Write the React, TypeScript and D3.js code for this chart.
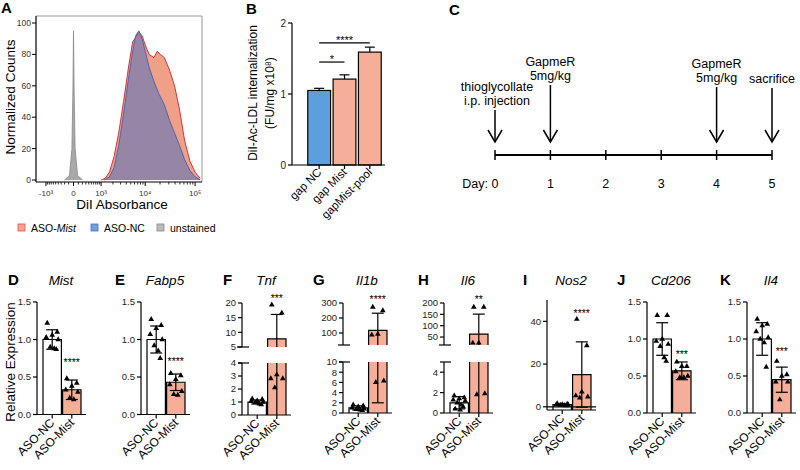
import React from "react";
import * as d3 from "d3";

const FONT = "'Liberation Sans', Arial, Helvetica, sans-serif";
const MIST_FILL = "#f5ae98";
const NC_BLUE = "#5d9fdc";

// ---------- Panel A: histogram data ----------
const aMistIntensity = [1000, 1280, 1650, 2130, 2720, 3490, 4480, 5480, 6360, 7400, 8600, 10000, 12000, 15000, 17600, 20300, 24400, 31000, 39000, 49000, 62000, 79000, 100000, 126000];
const aMistCounts = [0, 1, 5, 15, 30, 50, 72, 88, 91, 94, 92, 86, 80, 78, 82, 80, 78, 70, 60, 45, 25, 12, 5, 1];
const aNcIntensity = [1220, 1650, 2130, 2720, 3490, 4480, 5480, 6360, 7400, 8600, 10000, 12000, 15000, 18900, 24400, 31000, 39000, 49000, 62000, 79000, 100000, 126000];
const aNcCounts = [0, 2, 8, 22, 42, 65, 82, 92, 95, 90, 82, 72, 63, 55, 48, 38, 30, 22, 13, 6, 2, 0];
const aUnstIntensity = [-200, -80, -30, -10, 0, 10, 30, 80, 200];
const aUnstCounts = [0, 3, 20, 60, 95, 60, 20, 3, 0];
const aYTicks = [0, 20, 40, 60, 80, 100];
const aXMajor = [-1000, 0, 1000, 10000, 100000];
const aXMajorLabels = ["-10³", "0", "10³", "10⁴", "10⁵"];
const aXMinor = [-900, -800, -700, -600, -500, -400, -300, -200, -100, 100, 200, 300, 400, 500, 600, 700, 800, 900, 2000, 3000, 4000, 5000, 6000, 7000, 8000, 9000, 20000, 30000, 40000, 50000, 60000, 70000, 80000, 90000];
const aLegend = ["ASO-", "ASO-NC", "unstained"];

// ---------- Panel B ----------
const bCats = ["gap NC", "gap Mist", "gapMist-pool"];
const bMeans = [1.05, 1.21, 1.59];
const bSD = [0.03, 0.06, 0.07];
const bTicks = [0, 1, 2];
const bSig = [
  { a: 0, b: 1, label: "*", level: 1.45 },
  { a: 0, b: 2, label: "****", level: 1.72 },
];

// ---------- Panel C ----------
const cDays = [0, 1, 2, 3, 4, 5];
const cEvents = [
  { day: 0, lines: ["thioglycollate", "i.p. injection"] },
  { day: 1, lines: ["GapmeR", "5mg/kg"] },
  { day: 4, lines: ["GapmeR", "5mg/kg"] },
  { day: 5, lines: ["sacrifice"] },
];

// ---------- Panels D-K ----------
const letters = ["D", "E", "F", "G", "H", "I", "J", "K"];
const genes = ["Mist", "Fabp5", "Tnf", "Il1b", "Il6", "Nos2", "Cd206", "Il4"];
const groupLabels = ["ASO-NC", "ASO-Mist"];
const ncMeans = [1.0, 1.0, 1.0, 1.0, 1.0, 1.0, 1.0, 1.0];
const ncSD = [0.13, 0.18, 0.15, 0.4, 0.6, 0.3, 0.22, 0.22];
const mistMeans = [0.33, 0.43, 7.8, 117, 63, 15.1, 0.57, 0.45];
const mistSD = [0.13, 0.11, 8.3, 115, 88, 15.3, 0.12, 0.17];
const ncPoints = [
  [1.22, 1.1, 1.06, 1.03, 1.0, 0.9, 0.88, 0.87],
  [1.27, 1.19, 1.15, 1.07, 1.0, 0.92, 0.85, 0.75],
  [1.25, 1.2, 1.1, 1.05, 1.0, 0.95, 0.85, 0.8],
  [1.6, 1.4, 1.2, 1.0, 0.8, 0.7, 0.6, 0.5],
  [1.7, 1.5, 1.4, 1.3, 1.2, 1.0, 0.8, 0.6, 0.4, 0.3],
  [1.5, 1.3, 1.1, 1.0, 0.9, 0.8, 0.7, 0.6],
  [1.32, 1.32, 1.0, 0.97, 0.93, 0.9, 0.75, 0.7],
  [1.27, 1.2, 1.18, 1.1, 1.02, 1.0, 0.95, 0.62],
];
const mistPoints = [
  [0.48, 0.42, 0.38, 0.33, 0.3, 0.22, 0.2],
  [0.55, 0.52, 0.47, 0.4, 0.31, 0.27, 0.26],
  [19.4, 16.6, 3.1, 2.8, 2.8, 2.1],
  [273, 250, 93, 87, 6.3, 6.0],
  [182, 182, 24, 24, 1.9, 1.8],
  [41, 28.7, 7, 5.2, 4.7, 4.2],
  [0.69, 0.63, 0.63, 0.56, 0.5, 0.48, 0.48],
  [0.7, 0.52, 0.5, 0.42, 0.42, 0.18],
];
const stars = ["****", "****", "***", "****", "**", "****", "***", "***"];
const tickFmts = [".1f", ".1f", "d", "d", "d", "d", ".1f", ".1f"];
const segDomains = [
  [[0, 1.5]],
  [[0, 1.5]],
  [[0, 4], [5, 20]],
  [[0, 10], [20, 300]],
  [[0, 5], [15, 200]],
  [[-1.5, 50]],
  [[0, 1.5]],
  [[0, 1.5]],
];
const segTicks = [
  [[0, 0.5, 1.0, 1.5]],
  [[0, 0.5, 1.0, 1.5]],
  [[0, 1, 2, 3, 4], [5, 10, 15, 20]],
  [[0, 2, 4, 6, 8, 10], [100, 200, 300]],
  [[0, 2, 4], [50, 100, 150, 200]],
  [[0, 20, 40]],
  [[0, 0.5, 1.0, 1.5]],
  [[0, 0.5, 1.0, 1.5]],
];

// ---------- Layout (pixels) ----------
const segRanges = [
  [[414.5, 302]],
  [[414.5, 302]],
  [[415, 363], [347, 303]],
  [[413, 362], [345, 303]],
  [[413, 362], [345, 303]],
  [[410, 300]],
  [[413, 302]],
  [[413, 302]],
];
const axisXs = [37, 141, 242, 343, 444, 547, 647, 747];
const letterXs = [8, 115, 223, 313, 418, 523, 617, 720];
const starYs = [366, 365, 302, 303, 303, 317, 358, 355];
const jitter = [-5, 5, 0, -6, 6, -2, 2, 4, -4, 1];

function PanelA() {
  const ax = d3.scaleSymlog().constant(400).domain([-1800, 137000]).range([36, 202]);
  const ay = d3.scaleLinear().domain([0, 100]).range([180, 23]);
  const mk = (xs: number[], ys: number[]) => {
    const idx = d3.range(xs.length);
    const area = d3.area<number>().x((i) => ax(xs[i])).y0(ay(0)).y1((i) => ay(ys[i]))(idx) as string;
    const line = d3.line<number>().x((i) => ax(xs[i])).y((i) => ay(ys[i]))(idx) as string;
    return { area, line };
  };
  const red = mk(aMistIntensity, aMistCounts);
  const blue = mk(aNcIntensity, aNcCounts);
  const gray = mk(aUnstIntensity, aUnstCounts);
  return (
    <g>
      <text x={1} y={13} fontSize={15} fontWeight="bold">A</text>
      <path d={red.area} fill="#f0a087" />
      <path d={blue.area} fill="#4f6fc0" fillOpacity={0.55} />
      <path d={gray.area} fill="#a9a9a9" />
      <path d={red.line} fill="none" stroke="#d8323a" strokeWidth={1} />
      <path d={blue.line} fill="none" stroke="#4a66b0" strokeWidth={1} />
      <path d={gray.line} fill="none" stroke="#888" strokeWidth={0.8} />
      <line x1={36} x2={202} y1={16} y2={16} stroke="#999" />
      <line x1={202} x2={202} y1={16} y2={182} stroke="#999" />
      <line x1={36} x2={36} y1={16} y2={182} stroke="#000" strokeWidth={1.2} />
      <line x1={36} x2={202} y1={182} y2={182} stroke="#000" strokeWidth={1.2} />
      {aYTicks.map((t) => (
        <g key={t}>
          <line x1={32} x2={36} y1={ay(t)} y2={ay(t)} stroke="#000" />
          <text x={31} y={ay(t)} dy="0.35em" fontSize={8.5} textAnchor="end" fill="#333">{t}</text>
        </g>
      ))}
      {aXMinor.map((t) => (
        <line key={t} x1={ax(t)} x2={ax(t)} y1={182} y2={184.5} stroke="#000" strokeWidth={0.8} />
      ))}
      {aXMajor.map((t, i) => (
        <g key={t}>
          <line x1={ax(t)} x2={ax(t)} y1={182} y2={186} stroke="#000" />
          <text x={ax(t)} y={196} fontSize={8} textAnchor="middle" fill="#333">{aXMajorLabels[i]}</text>
        </g>
      ))}
      <text transform="translate(15,97) rotate(-90)" fontSize={13.5} textAnchor="middle">Normalized Counts</text>
      <text x={122} y={209} fontSize={13.5} textAnchor="middle">DiI Absorbance</text>
      <rect x={18} y={224} width={7} height={7} fill="#f4a58f" stroke="#e05050" strokeWidth={0.8} />
      <text x={31} y={231.5} fontSize={10.5}>{aLegend[0]}<tspan fontStyle="italic">Mist</tspan></text>
      <rect x={91} y={224} width={7} height={7} fill="#6fa0dc" stroke="#4a70b8" strokeWidth={0.8} />
      <text x={104} y={231.5} fontSize={10.5}>{aLegend[1]}</text>
      <rect x={157} y={224} width={7} height={7} fill="#bbb" stroke="#888" strokeWidth={0.8} />
      <text x={170} y={231.5} fontSize={10.5}>{aLegend[2]}</text>
    </g>
  );
}

function PanelB() {
  const y = d3.scaleLinear().domain([0, 2]).range([165, 23]);
  const x = d3.scaleBand().domain(bCats).range([306.5, 382.5]).paddingInner(0.1).paddingOuter(0.05);
  const bw = x.bandwidth();
  const cx = (i: number) => (x(bCats[i]) as number) + bw / 2;
  return (
    <g>
      <text x={246} y={14} fontSize={15} fontWeight="bold">B</text>
      <text transform="translate(257,93) rotate(-90)" fontSize={12} textAnchor="middle">DiI-Ac-LDL internalization</text>
      <text transform="translate(274,93) rotate(-90)" fontSize={12} textAnchor="middle">(FU/mg x10⁸)</text>
      {bCats.map((c, i) => (
        <g key={c}>
          <rect x={x(c)} y={y(bMeans[i])} width={bw} height={y(0) - y(bMeans[i])} fill={i === 0 ? NC_BLUE : MIST_FILL} stroke="#000" strokeWidth={1.2} />
          <line x1={cx(i)} x2={cx(i)} y1={y(bMeans[i])} y2={y(bMeans[i] + bSD[i])} stroke="#000" strokeWidth={1.2} />
          <line x1={cx(i) - 5} x2={cx(i) + 5} y1={y(bMeans[i] + bSD[i])} y2={y(bMeans[i] + bSD[i])} stroke="#000" strokeWidth={1.2} />
          <line x1={cx(i)} x2={cx(i)} y1={165} y2={169} stroke="#000" strokeWidth={1.2} />
          <text transform={`translate(${cx(i) + 3},${173}) rotate(-45)`} fontSize={11.5} textAnchor="end">{c}</text>
        </g>
      ))}
      <line x1={292} x2={292} y1={y(2)} y2={165} stroke="#000" strokeWidth={1.2} />
      <line x1={292} x2={385} y1={165} y2={165} stroke="#000" strokeWidth={1.2} />
      {bTicks.map((t) => (
        <g key={t}>
          <line x1={288} x2={292} y1={y(t)} y2={y(t)} stroke="#000" strokeWidth={1.2} />
          <text x={286} y={y(t)} dy="0.35em" fontSize={10} textAnchor="end" fill="#222">{t}</text>
        </g>
      ))}
      {bSig.map((s) => (
        <g key={s.label}>
          <line x1={cx(s.a)} x2={cx(s.b)} y1={y(s.level)} y2={y(s.level)} stroke="#000" strokeWidth={1.2} />
          <text x={(cx(s.a) + cx(s.b)) / 2} y={y(s.level) + 1} fontSize={11} textAnchor="middle">{s.label}</text>
        </g>
      ))}
    </g>
  );
}

function PanelC() {
  const x = d3.scaleLinear().domain([0, 5]).range([495, 772]);
  const ly = 155;
  const tops: Record<number, number> = { 0: 110, 1: 85, 4: 87, 5: 88 };
  return (
    <g>
      <text x={449} y={15} fontSize={15} fontWeight="bold">C</text>
      <line x1={x(0)} x2={x(5)} y1={ly} y2={ly} stroke="#000" strokeWidth={1.8} />
      {cDays.map((d) => (
        <g key={d}>
          <line x1={x(d)} x2={x(d)} y1={ly - 5} y2={ly + 5} stroke="#000" strokeWidth={1.5} />
          <text x={x(d)} y={188} fontSize={12.5} textAnchor="middle">{d}</text>
        </g>
      ))}
      <text x={488} y={188} fontSize={12.5} textAnchor="end">Day:</text>
      {cEvents.map((e) => {
        const cx = x(e.day);
        const top = tops[e.day];
        const n = e.lines.length;
        return (
          <g key={e.day}>
            <line x1={cx} x2={cx} y1={top} y2={142} stroke="#000" strokeWidth={1.5} />
            <path d={`M${cx - 7},${130}L${cx},${142}L${cx + 7},${130}`} fill="none" stroke="#000" strokeWidth={1.5} />
            {e.lines.map((l, li) => (
              <text key={li} x={cx + (e.day === 0 ? 2 : 0)} y={top - 5 - (n - 1 - li) * 14.5} fontSize={12.5} textAnchor="middle">{l}</text>
            ))}
          </g>
        );
      })}
    </g>
  );
}

function ExprPanel({ i }: { i: number }) {
  const ax = axisXs[i];
  const segs = segDomains[i].map((d, k) => ({ lo: d[0], hi: d[1], r: segRanges[i][k], ticks: segTicks[i][k] }));
  const scales = segs.map((s) => d3.scaleLinear().domain([s.lo, s.hi]).range(s.r));
  const yOf = (v: number) => {
    for (let k = 0; k < segs.length; k++) {
      if (v <= segs[k].hi || k === segs.length - 1) return scales[k](Math.max(segs[k].lo, Math.min(v, segs[k].hi)));
    }
    return 0;
  };
  const xb = d3.scaleBand().domain(groupLabels).range([ax + 6, ax + 44]).paddingInner(0.06);
  const bw = xb.bandwidth();
  const xEnd = ax + 49;
  const base = segs[0].lo;
  const fmt = d3.format(tickFmts[i]);
  const tri = d3.symbol().type(d3.symbolTriangle).size(14)() as string;
  const groups = [
    { key: groupLabels[0], mean: ncMeans[i], sd: ncSD[i], pts: ncPoints[i], fill: "#ffffff" },
    { key: groupLabels[1], mean: mistMeans[i], sd: mistSD[i], pts: mistPoints[i], fill: MIST_FILL },
  ];
  const bars: React.ReactNode[] = [];
  const errs: React.ReactNode[] = [];
  const pts: React.ReactNode[] = [];
  groups.forEach((g, gi) => {
    const x0 = xb(g.key) as number;
    const cx = x0 + bw / 2;
    segs.forEach((s, k) => {
      const a = Math.max(s.lo, base);
      const b = Math.min(g.mean, s.hi);
      if (b <= a) return;
      const ya = scales[k](a);
      const yb = scales[k](b);
      const isTop = g.mean <= s.hi;
      bars.push(<rect key={`r${gi}${k}`} x={x0} y={yb} width={bw} height={ya - yb} fill={g.fill} />);
      const p = `M${x0},${ya}V${yb}` + (isTop ? `H${x0 + bw}` : `M${x0 + bw},${yb}`) + `V${ya}`;
      bars.push(<path key={`p${gi}${k}`} d={p} fill="none" stroke="#000" strokeWidth={1.2} />);
    });
    const lo = g.mean - g.sd;
    const hi = g.mean + g.sd;
    segs.forEach((s, k) => {
      const a = Math.max(lo, s.lo);
      const b = Math.min(hi, s.hi);
      if (b <= a) return;
      errs.push(<line key={`e${gi}${k}`} x1={cx} x2={cx} y1={scales[k](a)} y2={scales[k](b)} stroke="#000" strokeWidth={1.2} />);
    });
    errs.push(<line key={`ct${gi}`} x1={cx - 6} x2={cx + 6} y1={yOf(hi)} y2={yOf(hi)} stroke="#000" strokeWidth={1.2} />);
    if (lo >= segs[0].lo) {
      errs.push(<line key={`cb${gi}`} x1={cx - 6} x2={cx + 6} y1={yOf(lo)} y2={yOf(lo)} stroke="#000" strokeWidth={1.2} />);
    }
    g.pts.forEach((v, j) => {
      pts.push(<path key={`t${gi}${j}`} d={tri} transform={`translate(${cx + jitter[j % jitter.length]},${yOf(v)})`} fill="#000" />);
    });
  });
  const c1 = (xb(groupLabels[0]) as number) + bw / 2;
  const c2 = (xb(groupLabels[1]) as number) + bw / 2;
  const yBase = segs[0].r[0];
  return (
    <g>
      <text x={letterXs[i]} y={285} fontSize={15} fontWeight="bold">{letters[i]}</text>
      <text x={(c1 + c2) / 2 - 1} y={285} fontSize={13.5} fontStyle="italic" textAnchor="middle">{genes[i]}</text>
      {i === 0 && (
        <text transform="translate(15,362) rotate(-90)" fontSize={13.5} textAnchor="middle">Relative Expression</text>
      )}
      {bars}
      {segs.map((s, k) => (
        <g key={k}>
          <line x1={ax} x2={ax} y1={s.r[0]} y2={s.r[1]} stroke="#000" strokeWidth={1.2} />
          {s.ticks.map((t) => (
            <g key={t}>
              <line x1={ax - 4} x2={ax} y1={scales[k](t)} y2={scales[k](t)} stroke="#000" strokeWidth={1.2} />
              <text x={ax - 6} y={scales[k](t)} dy="0.35em" fontSize={9.5} textAnchor="end" fill="#222">{fmt(t)}</text>
            </g>
          ))}
        </g>
      ))}
      {segs.length > 1 && (
        <g>
          <line x1={ax - 4} x2={ax + 7} y1={segs[0].r[1]} y2={segs[0].r[1]} stroke="#000" strokeWidth={1.2} />
          <line x1={ax - 5} x2={ax + 7} y1={segs[1].r[0]} y2={segs[1].r[0]} stroke="#000" strokeWidth={1.2} />
        </g>
      )}
      <line x1={ax} x2={xEnd} y1={yBase} y2={yBase} stroke="#000" strokeWidth={1.2} />
      {segs[0].lo < 0 && (
        <line x1={ax} x2={xEnd} y1={scales[0](0)} y2={scales[0](0)} stroke="#000" strokeWidth={1.2} />
      )}
      {errs}
      {pts}
      {groupLabels.map((gl, gi) => {
        const cx = gi === 0 ? c1 : c2;
        return (
          <g key={gl}>
            <line x1={cx} x2={cx} y1={yBase} y2={yBase + 4} stroke="#000" strokeWidth={1.2} />
            <text transform={`translate(${cx + 3},${yBase + 9}) rotate(-45)`} fontSize={12} textAnchor="end">{gl}</text>
          </g>
        );
      })}
      <text x={c2} y={starYs[i]} fontSize={10.5} textAnchor="middle">{stars[i]}</text>
    </g>
  );
}

export default function App() {
  return (
    <svg width={800} height={470} style={{ position: "absolute", left: 0, top: 0, background: "#fff" }} fontFamily={FONT}>
      <rect x={0} y={0} width={800} height={470} fill="#fff" />
      <PanelA />
      <PanelB />
      <PanelC />
      {genes.map((g, i) => (
        <ExprPanel key={g} i={i} />
      ))}
    </svg>
  );
}
